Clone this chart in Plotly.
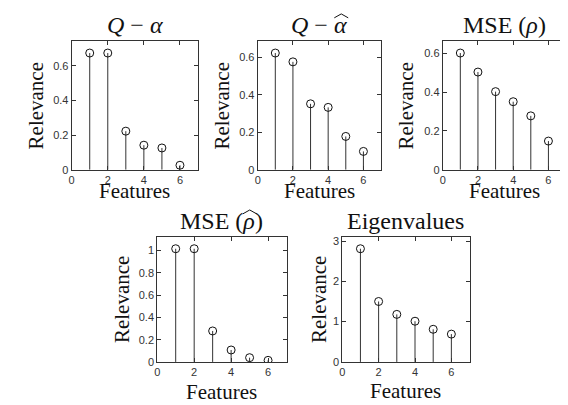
import plotly.graph_objects as go

W, H = 568, 405

features = [1, 2, 3, 4, 5, 6]
q_alpha = [0.674, 0.674, 0.223, 0.142, 0.126, 0.026]
q_alpha_hat = [0.623, 0.576, 0.352, 0.333, 0.178, 0.098]
mse_rho = [0.602, 0.504, 0.403, 0.351, 0.278, 0.148]
mse_rho_hat = [1.017, 1.017, 0.278, 0.107, 0.038, 0.014]
eigenvalues = [2.81, 1.50, 1.18, 1.01, 0.81, 0.69]

titles = ["<i>Q</i> − <i>α</i>", "<i>Q</i> − <i>α</i>", "MSE (<i>ρ</i>)",
          "MSE (<i>ρ</i>)", "Eigenvalues"]
# wide-hat accents (offset in px from title centre) for the hatted symbols
hats = {1: 22, 3: 28}
series = [q_alpha, q_alpha_hat, mse_rho, mse_rho_hat, eigenvalues]
ydticks = [0.2, 0.2, 0.2, 0.2, 1]

# panel boxes in pixels: left, right, top, bottom
boxes = [(61, 188, 32, 163), (248, 372, 32, 163), (434, 558, 32, 163),
         (147, 277, 232, 359), (333, 461, 232, 359)]
ylab_off = [36, 36, 37, 36, 24]
xlab_off = [22, 22, 22, 31, 30]

fig = go.Figure()
serif = "Liberation Serif"
sans = "Liberation Sans"
ann = []
shapes = []
for i, (vals, (l, r, t, b)) in enumerate(zip(series, boxes)):
    n = i + 1
    xa = "x" if n == 1 else f"x{n}"
    ya = "y" if n == 1 else f"y{n}"
    sx, sy = [], []
    for f, v in zip(features, vals):
        sx += [f, f, None]
        sy += [0, v, None]
    fig.add_trace(go.Scatter(x=sx, y=sy, mode="lines", xaxis=xa, yaxis=ya,
                             line=dict(color="#333333", width=1), hoverinfo="skip",
                             showlegend=False))
    fig.add_trace(go.Scatter(x=features, y=vals, mode="markers", xaxis=xa, yaxis=ya,
                             marker=dict(symbol="circle-open", size=8,
                                         color="#111111", line=dict(width=1)),
                             showlegend=False))
    ymax = max(vals) * 1.1
    axcommon = dict(showline=True, linecolor="#333333", linewidth=1, mirror="ticks",
                    ticks="inside", ticklen=4, tickcolor="#333333", showgrid=False,
                    zeroline=False, tickfont=dict(family=sans, size=11, color="#333333"))
    fig.layout[("xaxis" if n == 1 else f"xaxis{n}")] = dict(
        domain=[l / W, r / W], anchor=ya, range=[0, 7], tick0=0, dtick=2, **axcommon)
    fig.layout[("yaxis" if n == 1 else f"yaxis{n}")] = dict(
        domain=[1 - b / H, 1 - t / H], anchor=xa, range=[0, ymax], tick0=0,
        dtick=ydticks[i], **axcommon)
    cx = (l + r) / 2
    ann.append(dict(text=titles[i], x=cx / W, y=1 - (t - 17) / H, xref="paper",
                    yref="paper", xanchor="center", yanchor="middle", showarrow=False,
                    font=dict(family=serif, size=24, color="#111111")))
    if i in hats:
        hx = cx + hats[i]
        yb, ya_ = t - 24, t - 28
        path = (f"M {(hx - 7) / W},{1 - yb / H} L {hx / W},{1 - ya_ / H} "
                f"L {(hx + 7) / W},{1 - yb / H}")
        shapes.append(dict(type="path", xref="paper", yref="paper", path=path,
                           line=dict(color="#111111", width=1)))
    ann.append(dict(text="Relevance", x=(l - ylab_off[i]) / W, y=1 - ((t + b) / 2) / H,
                    xref="paper", yref="paper", xanchor="center", yanchor="middle",
                    textangle=-90, showarrow=False,
                    font=dict(family=serif, size=21, color="#111111")))
    ann.append(dict(text="Features", x=cx / W, y=1 - (b + xlab_off[i]) / H,
                    xref="paper", yref="paper", xanchor="center", yanchor="middle",
                    showarrow=False, font=dict(family=serif, size=21, color="#111111")))

fig.update_layout(width=W, height=H, margin=dict(l=0, r=0, t=0, b=0),
                  paper_bgcolor="white", plot_bgcolor="white", annotations=ann,
                  shapes=shapes)
fig.write_html("out.html")
